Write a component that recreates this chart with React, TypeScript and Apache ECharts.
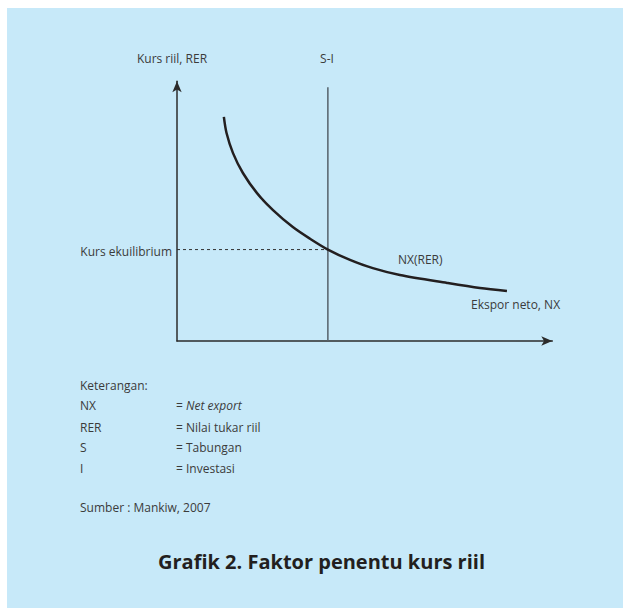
import React, { useEffect, useRef } from "react";
import * as echarts from "echarts";

const curveX = [12.3, 13.0, 14.7, 17.3, 21.0, 25.2, 30.4, 34.9, 39.6, 45.4, 51.4, 58.5, 70.9, 79.5, 86.6];
const curveY = [84.6, 78.5, 70.9, 63.4, 55.8, 49.4, 43.0, 38.6, 34.5, 30.6, 27.5, 24.9, 21.9, 20.0, 18.9];
// S-I vertical line
const siX = 39.6;
const siTop = 95.8;
// equilibrium exchange rate
const eqY = 34.5;
// axis ranges
const xMax = 98.5;
const yMax = 98;

const legendKeys = ["NX", "RER", "S", "I"];
const legendVals = ["Net export", "Nilai tukar riil", "Tabungan", "Investasi"];

const FONT = "'Open Sans', 'Noto Sans', sans-serif";
const TXT = "#3b3b3b";

export default function App() {
  const ref = useRef<HTMLDivElement>(null);
  useEffect(() => {
    if (!ref.current) return;
    const chart = echarts.init(ref.current, undefined, { renderer: "svg" });
    const legendY = [397, 419, 439, 460];
    const graphic: any[] = [
      { type: "text", x: 165, y: 50, style: { text: "Kurs riil, RER", font: `12px ${FONT}`, fill: TXT, align: "center", verticalAlign: "middle" } },
      { type: "text", x: 320, y: 50, style: { text: "S-I", font: `12px ${FONT}`, fill: TXT, align: "center", verticalAlign: "middle" } },
      { type: "text", x: 165, y: 243, style: { text: "Kurs ekuilibrium", font: `12px ${FONT}`, fill: TXT, align: "right", verticalAlign: "middle" } },
      { type: "text", x: 391, y: 251, style: { text: "NX(RER)", font: `12px ${FONT}`, fill: TXT, align: "left", verticalAlign: "middle" } },
      { type: "text", x: 464, y: 296, style: { text: "Ekspor neto, NX", font: `12px ${FONT}`, fill: TXT, align: "left", verticalAlign: "middle" } },
      { type: "text", x: 73, y: 377, style: { text: "Keterangan:", font: `12px ${FONT}`, fill: TXT, align: "left", verticalAlign: "middle" } },
      { type: "text", x: 73, y: 499, style: { text: "Sumber : Mankiw, 2007", font: `12px ${FONT}`, fill: TXT, align: "left", verticalAlign: "middle" } },
      { type: "text", x: 314.5, y: 553, style: { text: "Grafik 2. Faktor penentu kurs riil", font: `bold 20px ${FONT}`, fill: "#231f20", align: "center", verticalAlign: "middle" } },
    ];
    legendKeys.forEach((k, i) => {
      graphic.push({ type: "text", x: 73, y: legendY[i], style: { text: k, font: `12px ${FONT}`, fill: TXT, align: "left", verticalAlign: "middle" } });
      graphic.push({
        type: "text", x: 169, y: legendY[i],
        style: {
          text: i === 0 ? `= {i|${legendVals[i]}}` : `= ${legendVals[i]}`,
          font: `12px ${FONT}`, fill: TXT, align: "left", verticalAlign: "middle",
          rich: { i: { fontStyle: "italic", fontSize: 12, fontFamily: FONT, fill: TXT } },
        },
      });
    });
    chart.setOption({
      animation: false,
      backgroundColor: "#C7E9F9",
      grid: { left: 170, top: 333 - yMax * 2.65, width: xMax * 3.81, height: yMax * 2.65, containLabel: false },
      xAxis: {
        type: "value", min: 0, max: xMax,
        axisLine: { show: true, symbol: ["none", "arrow"], symbolSize: [7, 11], lineStyle: { color: "#2b2b2b", width: 1.5 } },
        axisTick: { show: false }, axisLabel: { show: false }, splitLine: { show: false },
      },
      yAxis: {
        type: "value", min: 0, max: yMax,
        axisLine: { show: true, symbol: ["none", "arrow"], symbolSize: [7, 11], lineStyle: { color: "#2b2b2b", width: 1.5 } },
        axisTick: { show: false }, axisLabel: { show: false }, splitLine: { show: false },
      },
      series: [
        {
          name: "S-I", type: "line", showSymbol: false, silent: true,
          data: [[siX, 0], [siX, siTop]],
          lineStyle: { color: "#55606a", width: 1.5 },
        },
        {
          name: "eq", type: "line", showSymbol: false, silent: true,
          data: [[0, eqY], [siX, eqY]],
          lineStyle: { color: "#333", width: 1, type: [3, 3] },
        },
        {
          name: "NX(RER)", type: "line", showSymbol: false, silent: true, smooth: 0.3,
          data: curveX.map((x, i) => [x, curveY[i]]),
          lineStyle: { color: "#231f20", width: 2.5 },
        },
      ],
      graphic,
    });
    return () => chart.dispose();
  }, []);
  return <div ref={ref} style={{ width: 616, height: 600, position: "fixed", left: 7, top: 8 }} />;
}
